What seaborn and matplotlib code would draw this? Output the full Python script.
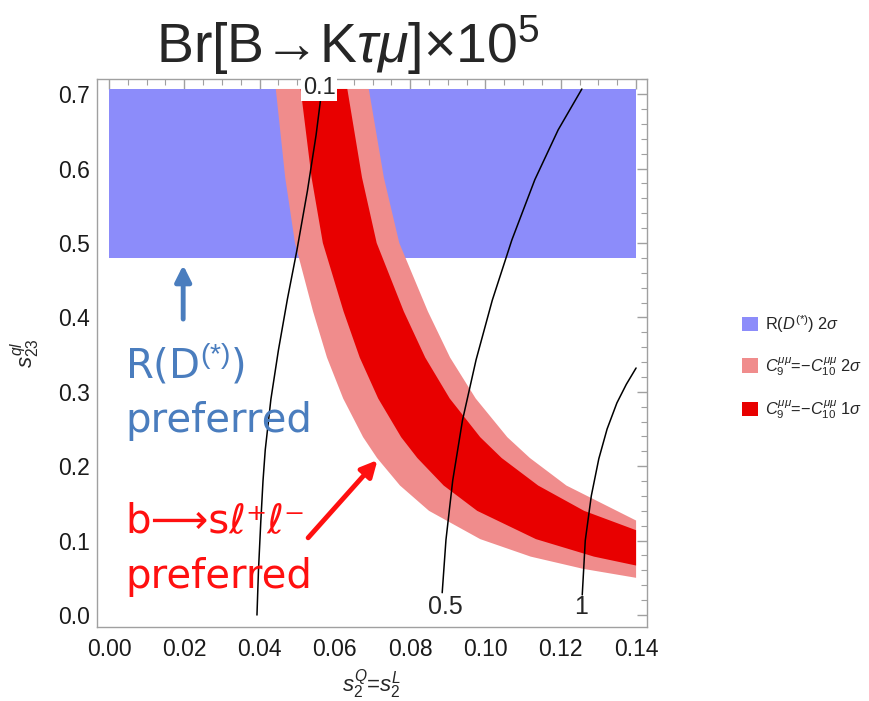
import numpy as np
import pandas as pd
import matplotlib
matplotlib.use("Agg")
import matplotlib.pyplot as plt
from matplotlib.patches import Patch
from matplotlib.ticker import MultipleLocator, FormatStrFormatter
import seaborn as sns

# ---------------- data ----------------
# R(D*) 2 sigma preferred rectangle
rd_x = [0.0, 0.14]
rd_lo = 0.48
rd_hi = 0.707

# C9 = -C10 2 sigma band (light) boundaries
l2_lo_x = [0.0443, 0.0468, 0.0494, 0.0542, 0.0579, 0.0622, 0.0675, 0.0712, 0.0773, 0.085, 0.0986, 0.112, 0.126, 0.140]
l2_lo_y = [0.707, 0.588, 0.500, 0.408, 0.346, 0.291, 0.239, 0.211, 0.174, 0.140, 0.102, 0.0785, 0.062, 0.050]
l2_hi_x = [0.0690, 0.0730, 0.0771, 0.0847, 0.0906, 0.0974, 0.1058, 0.1118, 0.1215, 0.140]
l2_hi_y = [0.707, 0.588, 0.500, 0.408, 0.346, 0.291, 0.239, 0.211, 0.174, 0.127]

# C9 = -C10 1 sigma band (dark) boundaries
l1_lo_x = [0.0509, 0.0538, 0.0568, 0.0623, 0.0666, 0.0715, 0.0776, 0.0819, 0.0889, 0.0978, 0.1134, 0.1288, 0.140]
l1_lo_y = [0.707, 0.588, 0.500, 0.408, 0.346, 0.291, 0.239, 0.211, 0.174, 0.140, 0.102, 0.0785, 0.0665]
l1_hi_x = [0.0633, 0.0672, 0.0711, 0.0783, 0.0840, 0.0905, 0.0986, 0.1043, 0.1140, 0.1262, 0.140]
l1_hi_y = [0.707, 0.588, 0.500, 0.408, 0.346, 0.291, 0.239, 0.211, 0.174, 0.140, 0.114]

# Br[B->K tau mu] x 10^5 contours
c01_x = [0.0393, 0.0397, 0.0403, 0.0409, 0.0415, 0.0430, 0.0450, 0.0474, 0.0499, 0.0527, 0.0550, 0.0565]
c01_y = [0.0, 0.06, 0.124, 0.18, 0.222, 0.29, 0.356, 0.425, 0.49, 0.57, 0.645, 0.705]
c05_x = [0.0885, 0.0895, 0.0913, 0.0939, 0.0975, 0.1018, 0.1070, 0.1131, 0.1193, 0.1256]
c05_y = [0.030, 0.101, 0.181, 0.262, 0.343, 0.423, 0.504, 0.585, 0.652, 0.707]
c1_x = [0.1257, 0.1265, 0.1281, 0.1301, 0.1323, 0.1349, 0.1374, 0.1400]
c1_y = [0.027, 0.10, 0.16, 0.21, 0.25, 0.285, 0.31, 0.332]
contour_levels = ["0.1", "0.5", "1"]

x_ticks = [0.00, 0.02, 0.04, 0.06, 0.08, 0.10, 0.12, 0.14]
y_ticks = [0.0, 0.1, 0.2, 0.3, 0.4, 0.5, 0.6, 0.7]

legend_labels = [r"R($D^{(*)}$) 2$\sigma$",
                 r"$C_9^{\mu\mu}$=$-C_{10}^{\mu\mu}$ 2$\sigma$",
                 r"$C_9^{\mu\mu}$=$-C_{10}^{\mu\mu}$ 1$\sigma$"]

# ---------------- style ----------------
sns.set_theme(style="white")
plt.rcParams["font.family"] = ["Liberation Sans", "DejaVu Sans"]
plt.rcParams["mathtext.fontset"] = "custom"
plt.rcParams["mathtext.rm"] = "Liberation Sans"
plt.rcParams["mathtext.it"] = "Liberation Sans:italic"
plt.rcParams["mathtext.bf"] = "Liberation Sans:bold"

BLUE = "#8C8CFA"
LRED = "#F08C8C"
DRED = "#E80000"
FRAME = "#A0A0A0"

fig = plt.figure(figsize=(8.70, 7.01), dpi=100)
ax = fig.add_axes([97 / 870, 1 - 627 / 701, 550 / 870, 548 / 701])

# regions
ax.fill_between(rd_x, rd_lo, rd_hi, color=BLUE, linewidth=0, zorder=1)
ax.fill(np.concatenate([l2_lo_x, l2_hi_x[::-1]]), np.concatenate([l2_lo_y, l2_hi_y[::-1]]),
        color=LRED, linewidth=0, zorder=2)
ax.fill(np.concatenate([l1_lo_x, l1_hi_x[::-1]]), np.concatenate([l1_lo_y, l1_hi_y[::-1]]),
        color=DRED, linewidth=0, zorder=3)

# contour lines
for cx, cy in [(c01_x, c01_y), (c05_x, c05_y), (c1_x, c1_y)]:
    sns.lineplot(x=cx, y=cy, ax=ax, sort=False, estimator=None, color="black",
                 linewidth=1.1, zorder=4)

ax.text(0.0558, 0.708, contour_levels[0], fontsize=17, ha="center", va="center", zorder=6,
        bbox=dict(boxstyle="square,pad=0.08", fc="white", ec="none"), clip_on=False)
ax.text(0.0893, 0.011, contour_levels[1], fontsize=18, ha="center", va="center", zorder=6)
ax.text(0.1253, 0.011, contour_levels[2], fontsize=18, ha="center", va="center", zorder=6)

# annotations
TBLUE = "#4A7DBE"
TRED = "#FF1010"
ANN = dict(fontsize=29, family=["DejaVu Sans"], ha="left", va="baseline", zorder=6)
ax.text(0.0043, 0.3185, r"R(D$^{(*)}$)", color=TBLUE, **ANN)
ax.text(0.0043, 0.246, "preferred", color=TBLUE, **ANN)
ax.text(0.0043, 0.1116, "b\u27f6s\u2113\u207a\u2113\u207b", color=TRED, **ANN)
ax.text(0.0043, 0.036, "preferred", color=TRED, **ANN)
ax.annotate("", xy=(0.0197, 0.474), xytext=(0.0197, 0.394),
            arrowprops=dict(arrowstyle="-|>,head_length=0.8,head_width=0.4", color=TBLUE, lw=3.5),
            zorder=6)
ax.annotate("", xy=(0.0718, 0.211), xytext=(0.0524, 0.101),
            arrowprops=dict(arrowstyle="-|>,head_length=0.8,head_width=0.4", color=TRED, lw=3.5),
            zorder=6)

# axes
ax.set_xlim(-0.00319, 0.1429)
ax.set_ylim(-0.0161, 0.7204)
ax.set_xticks(x_ticks)
ax.set_yticks(y_ticks)
ax.xaxis.set_major_formatter(FormatStrFormatter("%.2f"))
ax.yaxis.set_major_formatter(FormatStrFormatter("%.1f"))
ax.xaxis.set_minor_locator(MultipleLocator(0.005))
ax.yaxis.set_minor_locator(MultipleLocator(0.02))
ax.tick_params(which="both", direction="in", top=True, right=True, color=FRAME,
               labelsize=16.5, labelcolor="#1a1a1a")
ax.tick_params(which="major", length=7, width=1)
ax.tick_params(which="minor", length=4, width=0.8)
ax.tick_params(axis="x", pad=8)
ax.tick_params(axis="y", pad=5)
for s in ax.spines.values():
    s.set_color(FRAME)
    s.set_linewidth(1)
ax.set_xlabel(r"$s_2^Q$=$s_2^L$", fontsize=16, labelpad=5)
ax.set_ylabel(r"$s_{23}^{ql}$", fontsize=16, labelpad=12)

fig.text(348 / 870, 1 - 45 / 701, "Br[B\u2192K$\\tau\\mu$]\u00d710$^5$",
         fontsize=40, ha="center", va="center", family=["Liberation Sans", "DejaVu Sans"])

handles = [Patch(facecolor=c, edgecolor="none") for c in (BLUE, LRED, DRED)]
fig.legend(handles, legend_labels, loc="center left", bbox_to_anchor=(742 / 870, 1 - 367 / 701),
           frameon=False, fontsize=11.8, handlelength=1.0, handleheight=1.0, handletextpad=0.4,
           labelspacing=1.25, borderaxespad=0, borderpad=0)

fig.savefig("out.png", dpi=100)
